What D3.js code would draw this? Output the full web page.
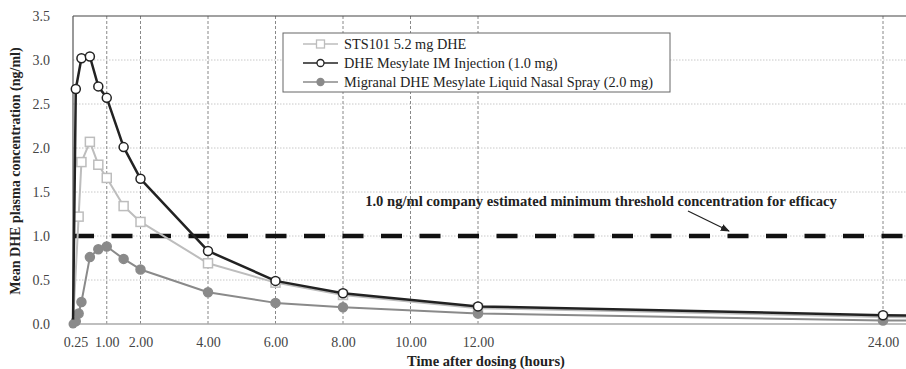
<!DOCTYPE html>
<html><head><meta charset="utf-8">
<script src="https://cdn.jsdelivr.net/npm/d3@7/dist/d3.min.js"></script>
<style>body{margin:0;background:#fff}svg{display:block}</style>
</head><body><svg id="c" width="906" height="369"></svg>
<script>
const stsTimes = [0, 0.167, 0.25, 0.5, 0.75, 1, 1.5, 2, 4, 6, 8, 12, 24, 36];
const stsValues = [0, 1.22, 1.84, 2.07, 1.81, 1.66, 1.34, 1.16, 0.69, 0.47, 0.33, 0.18, 0.08, 0.04];
const imTimes = [0, 0.083, 0.25, 0.5, 0.75, 1, 1.5, 2, 4, 6, 8, 12, 24, 36];
const imValues = [0, 2.67, 3.02, 3.04, 2.70, 2.57, 2.01, 1.65, 0.83, 0.49, 0.35, 0.20, 0.10, 0.05];
const migTimes = [0, 0.083, 0.167, 0.25, 0.5, 0.75, 1, 1.5, 2, 4, 6, 8, 12, 24, 36];
const migValues = [0, 0.03, 0.12, 0.25, 0.76, 0.85, 0.88, 0.74, 0.62, 0.36, 0.24, 0.19, 0.12, 0.04, 0.02];
const seriesNames = ["STS101  5.2 mg DHE", "DHE Mesylate IM Injection (1.0 mg)", "Migranal DHE Mesylate Liquid Nasal Spray (2.0 mg)"];
const xTicks = [0.25, 1, 2, 4, 6, 8, 10, 12, 24];
const xGrid = [1, 2, 4, 6, 8, 10, 12, 24];
const yTicks = [0, 0.5, 1.0, 1.5, 2.0, 2.5, 3.0, 3.5];
const threshold = 1.0;
const annotation = "1.0 ng/ml company estimated minimum threshold concentration for efficacy";
const xTitle = "Time after dosing (hours)";
const yTitle = "Mean DHE plasma concentration (ng/ml)";

const svg = d3.select("#c");
const font = "'Liberation Serif','DejaVu Serif',serif";
const x = d3.scaleLinear().domain([0, 25]).range([73, 73 + 25 * 33.75]);
const y = d3.scaleLinear().domain([0, 3.5]).range([324, 16]);
const W = 906;

svg.append("defs").append("clipPath").attr("id","pc").append("rect")
  .attr("x", 60).attr("y", 0).attr("width", W - 60).attr("height", 340);
svg.select("defs").append("marker").attr("id","arr").attr("viewBox","0 0 10 10")
  .attr("refX",9).attr("refY",5).attr("markerWidth",7).attr("markerHeight",7).attr("orient","auto")
  .append("path").attr("d","M0,1 L10,5 L0,9 z").attr("fill","#222");

// horizontal gridlines
svg.append("g").selectAll("line").data(yTicks.filter(v => v > 0 && v < 3.5)).join("line")
  .attr("x1", x(0)).attr("x2", W).attr("y1", d => y(d)).attr("y2", d => y(d))
  .attr("stroke", "#c8c8c8").attr("stroke-width", 1).attr("stroke-dasharray", "1.5,1.5");
// vertical gridlines
svg.append("g").selectAll("line").data(xGrid).join("line")
  .attr("x1", d => x(d)).attr("x2", d => x(d)).attr("y1", y(3.5)).attr("y2", y(0))
  .attr("stroke", "#888").attr("stroke-width", 1).attr("stroke-dasharray", "3,2");

// frame
svg.append("line").attr("x1", x(0)).attr("x2", W).attr("y1", y(3.5)).attr("y2", y(3.5)).attr("stroke","#444").attr("stroke-width",1.2);
svg.append("line").attr("x1", x(0)).attr("x2", W).attr("y1", y(0)).attr("y2", y(0)).attr("stroke","#aaa").attr("stroke-width",1.5);
svg.append("line").attr("x1", x(0)).attr("x2", x(0)).attr("y1", y(3.5)).attr("y2", y(0)).attr("stroke","#555").attr("stroke-width",1.2);

// threshold
svg.append("line").attr("x1", x(0)).attr("x2", W).attr("y1", y(threshold)).attr("y2", y(threshold))
  .attr("stroke","#111").attr("stroke-width",4.5).attr("stroke-dasharray","21,17.5");

// axes labels
svg.append("g").attr("transform", `translate(0,${y(0)})`)
  .call(d3.axisBottom(x).tickValues(xTicks).tickFormat(d3.format(".2f")).tickSize(0).tickPadding(13))
  .call(g => g.select(".domain").remove())
  .call(g => g.selectAll("text").attr("font-family", font).attr("font-size", 14).attr("fill", "#444")
     .attr("dx", d => d === 0.25 ? -6 : 0));
svg.append("g").attr("transform", `translate(${x(0)},0)`)
  .call(d3.axisLeft(y).tickValues(yTicks).tickFormat(d3.format(".1f")).tickSize(0).tickPadding(23))
  .call(g => g.select(".domain").remove())
  .call(g => g.selectAll("text").attr("font-family", font).attr("font-size", 14).attr("fill", "#444"));

svg.append("text").attr("x", 486).attr("y", 366).attr("text-anchor","middle")
  .attr("font-family", font).attr("font-size", 14.5).attr("font-weight","bold").attr("fill","#222").text(xTitle);
svg.append("text").attr("transform","translate(20,171) rotate(-90)").attr("text-anchor","middle")
  .attr("font-family", font).attr("font-size", 14).attr("font-weight","bold").attr("fill","#222").text(yTitle);

// series
const series = [
  {t: stsTimes, v: stsValues, color: "#bdbdbd", width: 2, mark: "square", fill: "#fff"},
  {t: migTimes, v: migValues, color: "#8a8a8a", width: 2, mark: "circle", fill: "#8a8a8a"},
  {t: imTimes, v: imValues, color: "#222", width: 2.5, mark: "circle", fill: "#fff"}
];
const line = d3.line().x(d => x(d[0])).y(d => y(d[1]));
const plot = svg.append("g").attr("clip-path","url(#pc)");
series.forEach(s => {
  const pts = s.t.map((t, i) => [t, s.v[i]]);
  plot.append("path").datum(pts).attr("d", line).attr("fill","none")
    .attr("stroke", s.color).attr("stroke-width", s.width).attr("stroke-linejoin","round");
  const mk = plot.append("g").selectAll("g").data(pts.filter(p => p[0] > 0)).join("g");
  if (s.mark === "square") {
    mk.append("rect").attr("x", d => x(d[0]) - 4.5).attr("y", d => y(d[1]) - 4.5)
      .attr("width", 9).attr("height", 9).attr("fill", s.fill).attr("stroke", s.color).attr("stroke-width", 1.5);
  } else {
    mk.append("circle").attr("cx", d => x(d[0])).attr("cy", d => y(d[1])).attr("r", 4.5)
      .attr("fill", s.fill).attr("stroke", s.color).attr("stroke-width", 1.5);
  }
});
plot.append("circle").attr("cx", x(0)).attr("cy", y(0)).attr("r", 4.5).attr("fill","#8a8a8a");

// annotation
svg.append("text").attr("x", 601).attr("y", 206).attr("text-anchor","middle")
  .attr("font-family", font).attr("font-size", 14.6).attr("font-weight","bold").attr("fill","#222").text(annotation);
svg.append("line").attr("x1", 688).attr("y1", 211).attr("x2", 729).attr("y2", 231)
  .attr("stroke","#222").attr("stroke-width",1.3).attr("marker-end","url(#arr)");

// legend
const lg = svg.append("g");
lg.append("rect").attr("x", 283).attr("y", 33).attr("width", 387).attr("height", 59)
  .attr("fill","#fff").attr("stroke","#666").attr("stroke-width",1);
const legendOrder = [series[0], series[2], series[1]];
legendOrder.forEach((s, i) => {
  const cy = 44 + i * 19;
  lg.append("line").attr("x1", 303).attr("x2", 338).attr("y1", cy).attr("y2", cy)
    .attr("stroke", s.color).attr("stroke-width", 1.5);
  if (s.mark === "square") lg.append("rect").attr("x", 316.5).attr("y", cy - 4).attr("width", 8).attr("height", 8)
    .attr("fill", "#fff").attr("stroke", s.color).attr("stroke-width", 1.3);
  else lg.append("circle").attr("cx", 320.5).attr("cy", cy).attr("r", 3.5).attr("fill", s.fill)
    .attr("stroke", s.color).attr("stroke-width", 1.3);
  lg.append("text").attr("x", 344).attr("y", cy + 5).attr("font-family", font).attr("font-size", 14.3)
    .attr("fill", "#222").text(seriesNames[i]);
});
</script></body></html>
